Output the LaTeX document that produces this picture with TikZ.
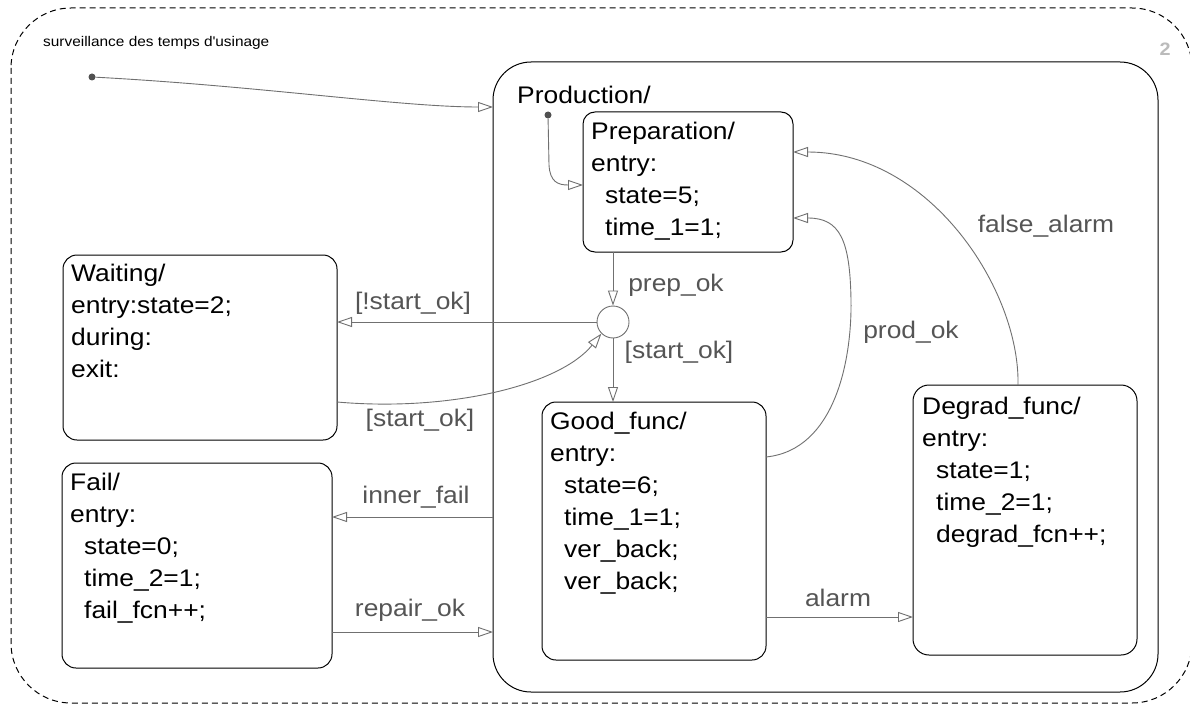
\documentclass[tikz,border=0pt]{standalone}
\usepackage{fontspec}
\setmainfont{Liberation Sans}[FakeStretch=1.1]
\usetikzlibrary{arrows.meta}
\definecolor{trgray}{HTML}{707070}
\definecolor{lblgray}{HTML}{555555}
\definecolor{dotgray}{HTML}{505050}
\definecolor{numgray}{HTML}{BBBBBB}
\tikzset{
  statebox/.style={draw=black, line width=1pt, rounded corners=#1, anchor=north west,
    inner sep=0pt, outer sep=0pt},
  statebox/.default=13pt,
  stxt/.style={font=\fontsize{24}{32}\selectfont, align=left, inner sep=0pt, anchor=north west,
    execute at begin node={\rule{0pt}{19pt}}},
  lbl/.style={font=\fontsize{24}{24}\selectfont, text=lblgray, inner sep=0pt},
  trans/.style={draw=trgray, line width=0.9pt,
    -{Triangle[open, length=15pt, width=10pt, line width=0.9pt]}},
  dotnode/.style={circle, fill=dotgray, inner sep=0pt, minimum size=7pt},
  junction/.style={circle, draw=trgray, line width=0.9pt, inner sep=0pt, minimum size=32pt},
}
\newcommand{\ind}{\hspace*{14pt}}
\begin{document}
\begin{tikzpicture}[x=1pt,y=-1pt]
\useasboundingbox (0,0) rectangle (1190,706);
\fill[white] (0,0) rectangle (1190,706);
% outer dashed chart frame
\draw[dash pattern=on 6pt off 4pt, line width=1pt, rounded corners=60pt] (11,8) rectangle (1192,703);
\node[font=\bfseries\fontsize{18}{18}\selectfont, text=numgray, inner sep=0pt] (num) at (1165,49) {2};
\node[font=\fontsize{14}{14}\selectfont, anchor=west, inner sep=0pt] (title) at (43,43) {surveillance des temps d\textquotesingle usinage};

% states (text nodes: first baseline = y + 19)
\node[statebox=38pt, minimum width=665pt, minimum height=630pt] (prod) at (493,62) {};
\node[stxt] (prodtxt) at (517,84) {Production/};

\node[statebox=12pt, minimum width=210pt, minimum height=140pt] (prep) at (583,112) {};
\node[stxt] (preptxt) at (591,122) {Preparation/\\entry:\\\ind state=5;\\\ind time\_1=1;};

\node[statebox=14pt, minimum width=274pt, minimum height=185pt] (wait) at (63,255) {};
\node[stxt] (waittxt) at (71,264) {Waiting/\\entry:state=2;\\during:\\exit:};

\node[statebox=14pt, minimum width=270pt, minimum height=205pt] (fail) at (62,463) {};
\node[stxt] (failtxt) at (70,473) {Fail/\\entry:\\\ind state=0;\\\ind time\_2=1;\\\ind fail\_fcn++;};

\node[statebox=14pt, minimum width=224pt, minimum height=258pt] (good) at (542,402) {};
\node[stxt] (goodtxt) at (550,412) {Good\_func/\\entry:\\\ind state=6;\\\ind time\_1=1;\\\ind ver\_back;\\\ind ver\_back;};

\node[statebox=16pt, minimum width=224pt, minimum height=270pt] (deg) at (913,385) {};
\node[stxt] (degtxt) at (922,397) {Degrad\_func/\\entry:\\\ind state=1;\\\ind time\_2=1;\\\ind degrad\_fcn++;};

\node[junction] (junc) at (613,322) {};

% default transitions
\node[dotnode] (d0) at (92,77) {};
\draw[trans] (d0) .. controls (260,86) and (400,107) .. (prod.west |- 0,107);
\node[dotnode] (d1) at (548,115) {};
\draw[trans] (d1) -- (549,165) .. controls (550,182) and (558,185) .. (prep.west |- 0,185);

% transitions
\draw[trans] (junc |- prep.south) -- (junc.north);
\node[lbl] (lprep) at (676,285) {prep\_ok};

\draw[trans] (junc.west) -- (wait.east |- junc.west);
\node[lbl] (lnstart) at (413,303) {[!start\_ok]};

\draw[trans] (wait.east |- 0,402) .. controls (450,412) and (560,385) .. (junc.-135);
\node[lbl] (lstart1) at (420,420) {[start\_ok]};

\draw[trans] (junc.south) -- (junc |- good.north);
\node[lbl] (lstart2) at (679,352) {[start\_ok]};

\draw[trans] (prod.west |- 0,517) -- (fail.east |- 0,517);
\node[lbl] (linner) at (416,497) {inner\_fail};

\draw[trans] (fail.east |- 0,632) -- (prod.west |- 0,632);
\node[lbl] (lrepair) at (410,610) {repair\_ok};

\draw[trans] (good.east |- 0,617) -- (deg.west |- 0,617);
\node[lbl] (lalarm) at (838,598) {alarm};

\draw[trans] (good.east |- 0,457) .. controls (835,450) and (852,360) .. (851,300)
  .. controls (850,240) and (840,218) .. (prep.east |- 0,218);
\node[lbl] (lprod) at (911,332) {prod\_ok};

\draw[trans] (1018,0 |- deg.north) .. controls (1020,290) and (930,152) .. (prep.east |- 0,152);
\node[lbl] (lfalse) at (1046,226) {false\_alarm};
\end{tikzpicture}
\end{document}
